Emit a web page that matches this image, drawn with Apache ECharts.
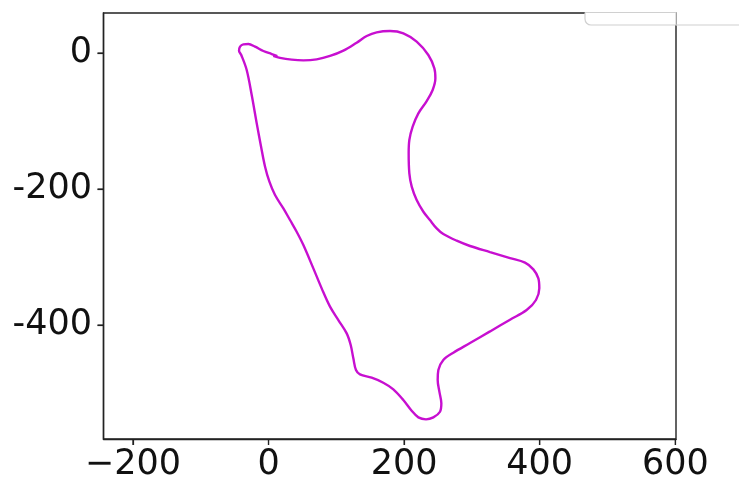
<!DOCTYPE html>
<html><head><meta charset="utf-8">
<style>html,body{margin:0;padding:0;background:#fff}#c{width:739px;height:479px}</style>
<script src="https://cdn.jsdelivr.net/npm/echarts@6/dist/echarts.min.js"></script>
</head><body><div id="c"></div>
<script>
const xTicks = [-200, 0, 200, 400, 600];
const yTicks = [0, -200, -400];
const xs = [7,17,34.2,51.4,71,90.7,110.4,130,144.8,159.5,179.2,198.9,218.5,235.7,244.6,246.1,242.1,233.3,221,212.6,207.7,206.7,207.7,211.2,218.5,228.4,238,248,257.8,277.5,297.2,326.7,356.2,378.3,390.6,398,399.4,394.5,380.7,356.2,326.7,297.2,272.6,257.8,250.5,249.5,252,254.9,252.9,243.1,232.3,221,211.1,198.8,184.1,169.3,152.1,134.9,129,125.1,121.2,115.3,103,90.7,78.4,66.1,51.4,41.5,31.7,21.9,9.6,1.3,-5.1,-11,-17.4,-24.8,-32.2,-40.2,-43.5,-42,-37.1,-29.7,-19.9,-7.6,4.7,13];
const ys = [-4.2,-7.2,-9.8,-10.8,-9.3,-4.4,3.4,15.2,25,30.4,32.3,28.9,16.6,-3,-22.6,-37.3,-54.4,-70.6,-88.8,-108.4,-128,-147.6,-177,-196.6,-216.2,-233.4,-245.6,-257.9,-266.2,-276,-283.8,-292.7,-301.5,-308.3,-318.2,-331.4,-346.1,-363.2,-378,-392.2,-409.4,-426.5,-440.7,-451.5,-466.2,-480.9,-498,-515.2,-527.5,-535.8,-538.7,-535.8,-526,-510.3,-494.6,-484.8,-477.5,-472.6,-466.2,-449,-429.4,-412.3,-392.7,-373,-346.1,-316.7,-282.4,-262.8,-245.6,-228.5,-208.9,-189.3,-167.2,-137.8,-103.5,-61.8,-25,-3,3.4,9.3,12.7,13.2,9.3,2.9,-1.5,-4.6];
const track = xs.map((x, i) => [x, ys[i]]);
const font = '"DejaVu Sans"';
const ink = '#222';
const xMin = -243.4, xMax = 601, yMin = -567.6, yMax = 58.8;
const axisLine = {show: true, onZero: false, lineStyle: {color: ink, width: 1.4}};
const tick = {show: true, length: 6, lineStyle: {color: ink, width: 1.2, opacity: 1}};
const chart = echarts.init(document.getElementById('c'), null, {renderer: 'canvas'});
chart.setOption({
  animation: false,
  backgroundColor: '#fff',
  grid: {left: 103.5, top: 13, width: 572.5, height: 426, outerBoundsMode: 'none', show: true, borderColor: ink, borderWidth: 1.4, backgroundColor: 'transparent'},
  xAxis: {type: 'value', min: xMin, max: xMax, splitLine: {show: false}, axisLine,
    axisTick: {...tick, customValues: xTicks},
    axisLabel: {customValues: xTicks, fontFamily: font, fontSize: 35, color: '#111', margin: 8,
      hideOverlap: false, formatter: v => String(v).replace('-', '\u2212')}},
  yAxis: {type: 'value', min: yMin, max: yMax, splitLine: {show: false}, axisLine,
    axisTick: {...tick, customValues: yTicks},
    axisLabel: {customValues: yTicks, fontFamily: font, fontSize: 35, color: '#111', margin: 11.5, padding: [8, 0, 0, 0]}},
  series: [
    {type: 'line', data: track, showSymbol: false, smooth: 0.35, clip: true,
      lineStyle: {color: '#c70fd0', width: 2.4}},
    {type: 'custom', coordinateSystem: 'cartesian2d', clip: false, silent: true, z: 50,
      data: xTicks.map(v => [v, yMin]), encode: {x: 0, y: 1},
      renderItem: (params, api) => {
        const p = api.coord([api.value(0), api.value(1)]);
        return {type: 'rect', shape: {x: p[0] - 0.6, y: p[1], width: 1.2, height: 6}, style: {fill: ink}};
      }},
    {type: 'custom', coordinateSystem: 'cartesian2d', clip: false, silent: true, z: 50,
      data: yTicks.map(v => [xMin, v]), encode: {x: 0, y: 1},
      renderItem: (params, api) => {
        const p = api.coord([api.value(0), api.value(1)]);
        return {type: 'rect', shape: {x: p[0] - 6, y: p[1] - 0.6, width: 6, height: 1.2}, style: {fill: ink}};
      }}
  ],
  graphic: [
    {type: 'rect', z: 100, shape: {x: 585, y: 12.5, width: 91, height: 12.5, r: [0, 0, 0, 6]},
      style: {fill: '#fff', stroke: '#d0d0d0', lineWidth: 1.2}},
    {type: 'line', z: 100, shape: {x1: 676, y1: 25, x2: 739, y2: 25}, style: {stroke: '#d0d0d0', lineWidth: 1.2}}
  ]
});
</script></body></html>
